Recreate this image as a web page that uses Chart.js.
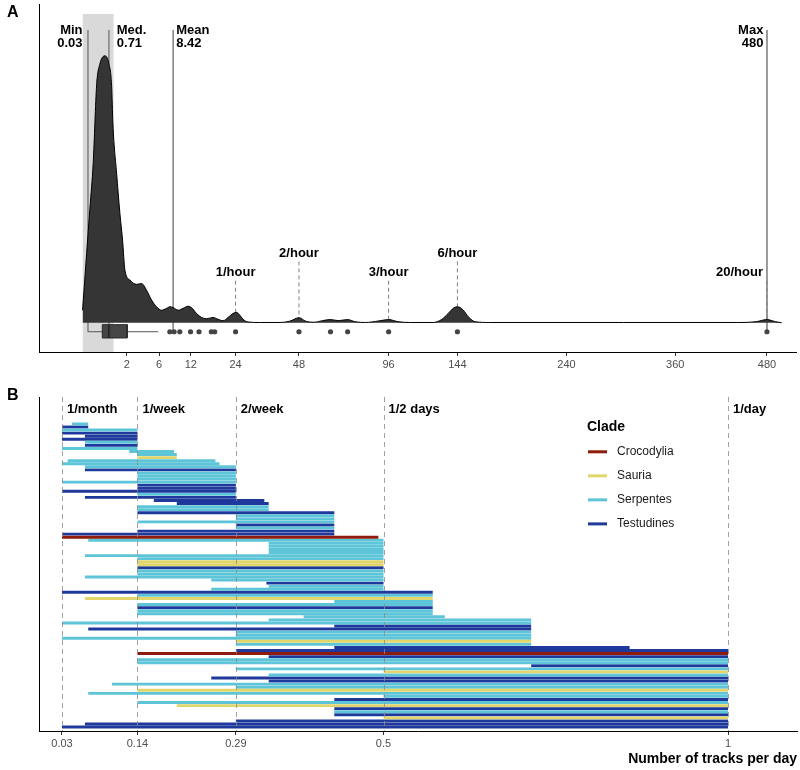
<!DOCTYPE html>
<html lang="en">
<head>
<meta charset="UTF-8" />
<title>Tracking rates</title>
<script src="https://cdn.jsdelivr.net/npm/chart.js@4.4.1/dist/chart.umd.min.js"></script>
<style>
  body {margin: 0; background: #fff;}
  #wrap {position: relative; width: 800px; height: 770px;}
  canvas {display: block;}
  .tag {position: absolute; left: 7px; font: bold 16px "Liberation Sans", Arial, sans-serif; color: #000;}
</style>
</head>
<body>
<div id="wrap">
  <canvas id="chartA" width="800" height="385"></canvas>
  <canvas id="chartB" width="800" height="385"></canvas>
  <div class="tag" style="top:3px">A</div>
  <div class="tag" style="top:386px">B</div>
</div>

<script>
// ---------- Panel A: density of tracks per day ----------
const densityRate  = [0, 0.017, 0.056, 0.117, 0.203, 0.309, 0.513, 0.712, 0.865, 0.945, 1.19, 1.43, 1.64, 1.84, 2.30, 2.99,
  3.57, 4.20, 4.88, 5.61, 6.39, 7.23, 7.81, 8.41, 9.36, 10.36, 11.42, 12.16, 13.3, 14.5, 15.74, 17.46, 18.82, 20.23,
  21.7, 23.2, 24.27, 25.3, 26.4, 28.06, 32, 40, 44, 48, 51, 55, 59, 63, 67, 72, 76, 82, 90, 96, 102, 110, 126, 132,
  137, 141, 144, 148, 153, 158, 170, 300, 440, 465, 480, 492, 501];
const densityValue = [0.047, 0.26, 0.43, 0.60, 0.89, 0.97, 1.0, 0.97, 0.89, 0.745, 0.56, 0.41, 0.31, 0.197, 0.16, 0.144,
  0.147, 0.122, 0.085, 0.06, 0.047, 0.054, 0.06, 0.057, 0.047, 0.054, 0.062, 0.057, 0.035, 0.02, 0.015, 0.02, 0.013, 0.0075,
  0.02, 0.035, 0.039, 0.029, 0.013, 0.003, 0.001, 0.001, 0.006, 0.019, 0.006, 0.002, 0.008, 0.012, 0.008, 0.012, 0.004, 0.001, 0.007, 0.012, 0.004, 0.001, 0.001, 0.012,
  0.035, 0.055, 0.06, 0.05, 0.02, 0.004, 0.001, 0.001, 0.001, 0.004, 0.012, 0.004, 0];
const boxStats = [0.03, 0.40, 0.71, 2.04, 5.86];   // whisker low, q1, median, q3, whisker high
const outlierRates = [7.81, 8.59, 9.69, 11.95, 13.9, 17.0, 17.9, 24, 48, 63, 72, 96, 144, 480];
const xTicksA = [2, 6, 12, 24, 48, 96, 144, 240, 360, 480];
const statNames  = ['Min', 'Med.', 'Mean', 'Max'];
const statValues = [0.03, 0.71, 8.42, 480];
const statText   = ['0.03', '0.71', '8.42', '480'];
const statAnchor = [0, 1, 8.42, 475];
const statAlign  = ['right', 'left', 'left', 'right'];
const hourRates  = [24, 48, 96, 144, 480];
const hourLabels = ['1/hour', '2/hour', '3/hour', '6/hour', '20/hour'];
const hourLevel  = [0.1875, 0.26, 0.1875, 0.26, 0.1875];

// ---------- Panel B: tracking rate range per study ----------
const cladeNames  = ['Crocodylia', 'Sauria', 'Serpentes', 'Testudines'];
const cladeColors = ['#8e1b0b', '#e2d56b', '#5ec4d8', '#1f389c'];
const rowStart = [1/21, 1/30, 1/30, 1/30, 1/15, 1/30, 1/15, 1/15, 1/30, 0.131,
  1/7, 1/7, 1/24, 1/30, 1/15, 1/15, 1/7, 1/7, 1/7, 1/30,
  1/7, 1/7, 1/30, 1/7, 1/15, 1/6, 0.2, 1/7, 1/7, 1/7,
  2/7, 2/7, 1/7, 2/7, 2/7, 1/7, 1/30, 1/30, 1/14, 1/3,
  1/3, 1/3, 1/3, 1/15, 1/7, 1/7, 1/7, 1/7, 1/7, 1/7,
  1/15, 0.25, 0.33, 1/3, 0.25, 1/30, 1/7, 1/15, 3/7, 1/7,
  1/7, 1/7, 1/7, 0.384, 1/3, 1/30, 3/7, 1/14, 2/7, 2/7,
  1/30, 2/7, 2/7, 3/7, 2/7, 1/7, 1/3, 1/7, 1/7, 5/7,
  2/7, 0.5, 1/3, 0.25, 1/3, 0.106, 2/7, 1/7, 1/14, 0.5,
  3/7, 1/7, 0.2, 3/7, 3/7, 3/7, 0.5, 2/7, 1/15, 1/30];
const rowEnd = [1/14, 1/14, 1/7, 1/7, 1/7, 1/7, 1/7, 1/7, 1/7, 0.196,
  0.2, 0.2, 0.256, 0.262, 2/7, 2/7, 2/7, 2/7, 2/7, 2/7,
  2/7, 2/7, 2/7, 2/7, 2/7, 0.327, 1/3, 1/3, 1/3, 3/7,
  3/7, 3/7, 3/7, 3/7, 3/7, 3/7, 3/7, 0.4925, 0.5, 0.5,
  0.5, 0.5, 0.5, 0.5, 0.5, 0.5, 0.5, 0.5, 0.5, 0.5,
  0.5, 0.5, 0.5, 0.5, 0.5, 4/7, 4/7, 4/7, 4/7, 4/7,
  4/7, 4/7, 4/7, 0.589, 5/7, 5/7, 5/7, 5/7, 5/7, 5/7,
  5/7, 5/7, 5/7, 6/7, 1, 1, 1, 1, 1, 1,
  1, 1, 1, 1, 1, 1, 1, 1, 1, 1,
  1, 1, 1, 1, 1, 1, 1, 1, 1, 1];
const rowClade = ['Serpentes', 'Testudines', 'Serpentes', 'Testudines', 'Testudines', 'Testudines', 'Serpentes', 'Testudines', 'Serpentes', 'Serpentes',
  'Serpentes', 'Sauria', 'Serpentes', 'Serpentes', 'Serpentes', 'Testudines', 'Serpentes', 'Serpentes', 'Serpentes', 'Serpentes',
  'Testudines', 'Testudines', 'Testudines', 'Serpentes', 'Testudines', 'Testudines', 'Testudines', 'Serpentes', 'Serpentes', 'Testudines',
  'Serpentes', 'Serpentes', 'Serpentes', 'Testudines', 'Serpentes', 'Testudines', 'Testudines', 'Crocodylia', 'Serpentes', 'Serpentes',
  'Serpentes', 'Serpentes', 'Serpentes', 'Serpentes', 'Serpentes', 'Sauria', 'Sauria', 'Testudines', 'Serpentes', 'Serpentes',
  'Serpentes', 'Serpentes', 'Testudines', 'Serpentes', 'Serpentes', 'Testudines', 'Serpentes', 'Sauria', 'Serpentes', 'Serpentes',
  'Testudines', 'Serpentes', 'Serpentes', 'Serpentes', 'Serpentes', 'Serpentes', 'Testudines', 'Testudines', 'Serpentes', 'Serpentes',
  'Serpentes', 'Sauria', 'Serpentes', 'Testudines', 'Testudines', 'Crocodylia', 'Testudines', 'Serpentes', 'Serpentes', 'Testudines',
  'Serpentes', 'Sauria', 'Serpentes', 'Testudines', 'Testudines', 'Serpentes', 'Serpentes', 'Sauria', 'Serpentes', 'Serpentes',
  'Testudines', 'Serpentes', 'Sauria', 'Testudines', 'Serpentes', 'Testudines', 'Sauria', 'Testudines', 'Testudines', 'Testudines'];
const xTicksB = [1/30, 1/7, 2/7, 0.5, 1];
const xTickLabelsB = ['0.03', '0.14', '0.29', '0.5', '1'];
const rateLabels = ['1/month', '1/week', '2/week', '1/2 days', '1/day'];

const FONT = '"Liberation Sans", Arial, sans-serif';
Chart.defaults.font.family = FONT;

// square-root x axis (like ggplot's sqrt transform)
const sq = v => Math.sign(v) * Math.sqrt(Math.abs(v));
class SqrtScale extends Chart.LinearScale {
  getPixelForValue(value) {
    return this.getPixelForDecimal((sq(value) - sq(this.min)) / (sq(this.max) - sq(this.min)));
  }
  getValueForPixel(pixel) {
    const s = sq(this.min) + this.getDecimalForPixel(pixel) * (sq(this.max) - sq(this.min));
    return Math.sign(s) * s * s;
  }
}
SqrtScale.id = 'sqrt';
SqrtScale.defaults = Chart.LinearScale.defaults;
Chart.register(SqrtScale);

const statTop = 1.097, lowY = -0.0336;
const seg = (x, y0, y1) => [{x: x, y: y0}, {x: x, y: y1}];

const dsA = [];
// grey band 0..1 per day
dsA.push({data: [{x: 0, y: 1.157}, {x: 1, y: 1.157}], fill: 'start', backgroundColor: '#d9d9d9', borderWidth: 0, order: 10});
statValues.forEach(v => dsA.push({data: seg(v, statTop, lowY), borderColor: '#8c8c8c', borderWidth: 1, order: 8}));
hourRates.forEach((v, i) => dsA.push({data: seg(v, hourLevel[i] - 0.03, 0), borderColor: '#808080', borderWidth: 1, borderDash: [4, 3], order: 7}));
dsA.push({
  data: densityRate.map((r, i) => ({x: r, y: densityValue[i]})),
  fill: 'origin', backgroundColor: '#353535', borderColor: '#000', borderWidth: 1,
  cubicInterpolationMode: 'monotone', order: 5
});
dsA.push({data: [{x: boxStats[0], y: lowY}, {x: boxStats[4], y: lowY}], borderColor: '#555', borderWidth: 1, order: 3});
dsA.push({
  data: [{x: boxStats[1], y: -0.007}, {x: boxStats[3], y: -0.007}, {x: boxStats[3], y: -0.057},
         {x: boxStats[1], y: -0.057}, {x: boxStats[1], y: -0.007}],
  fill: 'shape', backgroundColor: '#454545', borderColor: '#2a2a2a', borderWidth: 1, order: 2
});
dsA.push({data: seg(boxStats[2], -0.007, -0.057), borderColor: '#222', borderWidth: 1.5, order: 1});
dsA.push({
  data: outlierRates.map(r => ({x: r, y: lowY})), showLine: false,
  pointRadius: 2.6, pointBackgroundColor: '#444', pointBorderWidth: 0, order: 0
});

const labelsA = {
  id: 'labelsA',
  afterDatasetsDraw(chart) {
    const {ctx, scales: {x, y}} = chart;
    ctx.save();
    ctx.fillStyle = '#000';
    ctx.font = 'bold 13px ' + FONT;
    ctx.textBaseline = 'middle';
    statNames.forEach((n, i) => {
      const px = x.getPixelForValue(statAnchor[i]) + (statAlign[i] === 'left' ? 3 : 0);
      ctx.textAlign = statAlign[i];
      ctx.fillText(n, px, y.getPixelForValue(1.097));
      ctx.fillText(statText[i], px, y.getPixelForValue(1.045));
    });
    hourLabels.forEach((t, i) => {
      const last = i === hourLabels.length - 1;
      ctx.textAlign = last ? 'right' : 'center';
      ctx.fillText(t, x.getPixelForValue(hourRates[i]) - (last ? 4 : 0), y.getPixelForValue(hourLevel[i]));
    });
    ctx.restore();
  }
};

new Chart(document.getElementById('chartA'), {
  type: 'line',
  data: {datasets: dsA},
  options: {
    responsive: false, animation: false, events: [],
    layout: {padding: {left: 39, right: 3, top: 3, bottom: 0}},
    plugins: {legend: {display: false}, tooltip: {enabled: false}},
    elements: {point: {radius: 0}, line: {tension: 0}},
    scales: {
      x: {
        type: 'sqrt', min: -1.943, max: 521.6,
        afterBuildTicks: s => { s.ticks = xTicksA.map(v => ({value: v})); },
        ticks: {callback: (v, i) => String(xTicksA[i]), autoSkip: false, maxRotation: 0, color: '#4d4d4d', font: {size: 11}, padding: 2},
        grid: {drawOnChartArea: false, tickLength: 4, color: '#333'},
        border: {color: '#000', width: 1},
        afterFit: s => { s.height = 33; }
      },
      y: {
        min: -0.1095, max: 1.1943,
        ticks: {display: false}, grid: {display: false, drawTicks: false},
        border: {color: '#000', width: 1},
        afterFit: s => { s.width = 0; }
      }
    }
  },
  plugins: [labelsA]
});

// ---------- Panel B ----------
const dsB = cladeNames.map((c, k) => ({
  label: c,
  data: rowClade.map((cl, i) => cl === c ? {x: [rowStart[i], rowEnd[i]], y: i + 1} : null).filter(d => d),
  backgroundColor: cladeColors[k],
  grouped: false, barPercentage: 0.95, categoryPercentage: 1, borderWidth: 0
}));

const extrasB = {
  id: 'extrasB',
  afterDatasetsDraw(chart) {
    const {ctx, chartArea, scales: {x, y}} = chart;
    ctx.save();
    // reference rates
    ctx.strokeStyle = 'rgba(140,140,140,0.8)';
    ctx.lineWidth = 1;
    ctx.setLineDash([5, 4]);
    xTicksB.forEach(v => {
      const px = Math.round(x.getPixelForValue(v)) + 0.5;
      ctx.beginPath();
      ctx.moveTo(px, chartArea.top);
      ctx.lineTo(px, chartArea.bottom);
      ctx.stroke();
    });
    ctx.setLineDash([]);
    ctx.fillStyle = '#000';
    ctx.font = 'bold 13px ' + FONT;
    ctx.textBaseline = 'middle';
    ctx.textAlign = 'left';
    rateLabels.forEach((t, i) => ctx.fillText(t, x.getPixelForValue(xTicksB[i]) + 5, y.getPixelForValue(-3.6)));
    // legend
    ctx.font = 'bold 14px ' + FONT;
    ctx.fillText('Clade', 587, y.getPixelForValue(1.9));
    ctx.font = '12px ' + FONT;
    cladeNames.forEach((c, k) => {
      const py = y.getPixelForValue(10.1 + k * 7.85);
      ctx.fillStyle = cladeColors[k];
      ctx.fillRect(588, py - 1.5, 19, 3);
      ctx.fillStyle = '#1a1a1a';
      ctx.fillText(c, 617, py);
    });
    ctx.restore();
  }
};

new Chart(document.getElementById('chartB'), {
  type: 'bar',
  data: {datasets: dsB},
  options: {
    indexAxis: 'y', responsive: false, animation: false, events: [],
    layout: {padding: {left: 39, right: 3, top: 12, bottom: 0}},
    plugins: {legend: {display: false}, tooltip: {enabled: false}},
    scales: {
      x: {
        type: 'linear', min: 0, max: 1.1001,
        afterBuildTicks: s => { s.ticks = xTicksB.map(v => ({value: v})); },
        ticks: {callback: (v, i) => xTickLabelsB[i], autoSkip: false, maxRotation: 0, color: '#4d4d4d', font: {size: 11}, padding: 2},
        grid: {drawOnChartArea: false, tickLength: 4, color: '#333'},
        border: {color: '#000', width: 1},
        title: {display: true, text: 'Number of tracks per day', align: 'end', color: '#000',
                font: {size: 14, weight: 'bold'}, padding: {top: 0, bottom: 2}},
        afterFit: s => { s.height = 39; }
      },
      y: {
        type: 'linear', reverse: true, min: -7.8, max: 101.3, offset: false,
        ticks: {display: false}, grid: {display: false, drawTicks: false, offset: false},
        border: {color: '#000', width: 1},
        afterFit: s => { s.width = 0; }
      }
    }
  },
  plugins: [extrasB]
});
</script>
</body>
</html>
